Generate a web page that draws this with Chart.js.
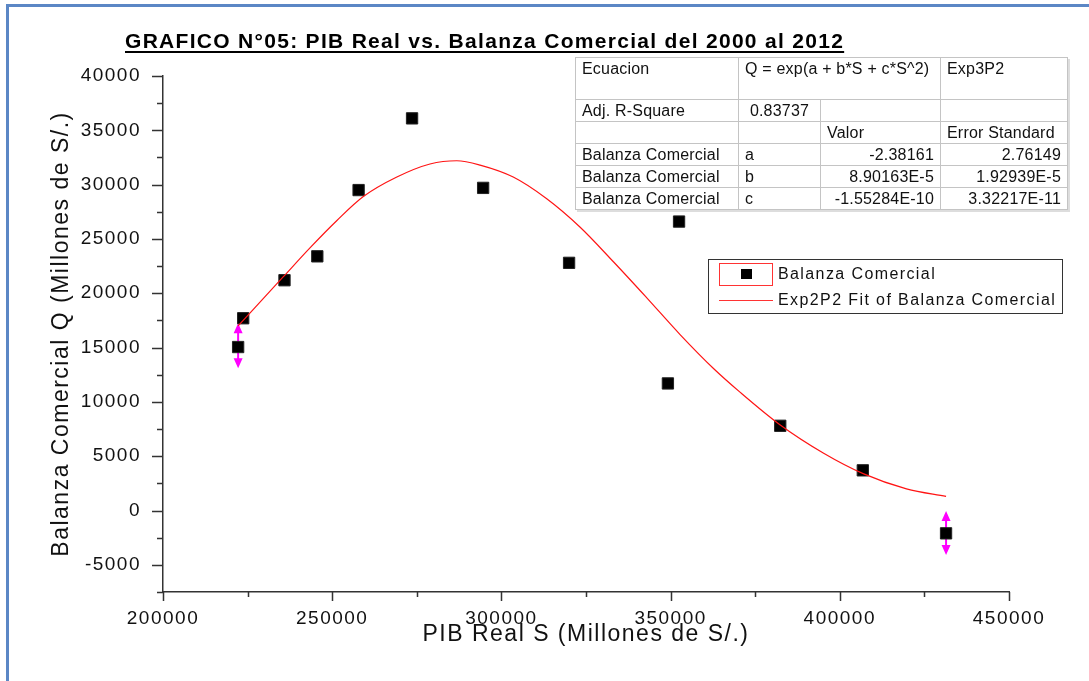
<!DOCTYPE html>
<html>
<head>
<meta charset="utf-8">
<script src="https://cdn.jsdelivr.net/npm/chart.js"></script>
<style>
  body { margin: 0; background: #fff; font-family: "Liberation Sans", Arial, sans-serif; }
  #wrap { position: relative; width: 1089px; height: 681px; overflow: hidden; }
  #frame { position: absolute; left: 6px; top: 4px; width: 1100px; height: 700px;
           border-left: 3px solid #5b87c5; border-top: 3px solid #5b87c5; }
  #titulo { position: absolute; left: 125px; top: 29px; font-weight: bold; font-size: 21px;
            letter-spacing: 1.3px; text-decoration: underline; text-decoration-thickness: 2px;
            text-underline-offset: 3px; white-space: nowrap; color: #000; }
  #tabla { position: absolute; left: 575px; top: 57px; width: 492px; table-layout: fixed;
           border-collapse: collapse; font-size: 16px; letter-spacing: 0.2px; color: #111; background: #fff;
           border: 1.5px solid #222; box-shadow: 2px 2px 0 #ddd; }
  #tabla td { border: 1px solid #c4c4c4; padding: 0 6px; height: 21px; line-height: 18px;
              white-space: nowrap; overflow: hidden; }
  #tabla tr.r1 td { height: 39px; vertical-align: top; padding-top: 2px; }
  #tabla td.num { text-align: right; padding-right: 6px; }
  #tabla td.cen { text-align: center; }
  #leyenda { position: absolute; left: 708px; top: 259px; width: 353px; height: 53px;
             border: 1px solid #333; background: #fff; font-size: 16px; letter-spacing: 1.4px; color: #111; }
  #leyenda .sw { position: absolute; left: 10px; top: 3px; width: 52px; height: 21px; border: 1px solid #f33; }
  #leyenda .sq { position: absolute; left: 21px; top: 5px; width: 11px; height: 10px; background: #000; }
  #leyenda .ln { position: absolute; left: 10px; top: 40px; width: 54px; height: 1px; background: #f33; }
  #leyenda .t1 { position: absolute; left: 69px; top: 5px; }
  #leyenda .t2 { position: absolute; left: 69px; top: 31px; }
</style>
</head>
<body>
<div id="wrap">
  <div id="frame"></div>
  <canvas id="grafico" width="1089" height="681"></canvas>
  <div id="titulo">GRAFICO N°05: PIB Real vs. Balanza Comercial del 2000 al 2012</div>
  <table id="tabla">
    <colgroup><col style="width:163px"><col style="width:82px"><col style="width:120px"><col style="width:127px"></colgroup>
    <tr class="r1"><td>Ecuacion</td><td colspan="2">Q = exp(a + b*S + c*S^2)</td><td>Exp3P2</td></tr>
    <tr><td>Adj. R-Square</td><td class="cen">0.83737</td><td></td><td></td></tr>
    <tr><td></td><td></td><td>Valor</td><td>Error Standard</td></tr>
    <tr><td>Balanza Comercial</td><td>a</td><td class="num">-2.38161</td><td class="num">2.76149</td></tr>
    <tr><td>Balanza Comercial</td><td>b</td><td class="num">8.90163E-5</td><td class="num">1.92939E-5</td></tr>
    <tr><td>Balanza Comercial</td><td>c</td><td class="num">-1.55284E-10</td><td class="num">3.32217E-11</td></tr>
  </table>
  <div id="leyenda">
    <div class="sw"><div class="sq"></div></div>
    <div class="t1">Balanza Comercial</div>
    <div class="ln"></div>
    <div class="t2">Exp2P2 Fit of Balanza Comercial</div>
  </div>
</div>

<script>
// PIB real (S) y balanza comercial (Q), millones de S/.
const pib = [222200, 223700, 235900, 245600, 257800, 273600, 294600, 320000, 349200, 352500, 382400, 406800, 431400];
const balanza = [15050, 17700, 21200, 23400, 29500, 36100, 29700, 22800, 11700, 26600, 7800, 3700, -2100];

// barras de error (solo primer y ultimo punto)
const errBajo = [13100, null, null, null, null, null, null, null, null, null, null, null, -4100];
const errAlto = [17250, null, null, null, null, null, null, null, null, null, null, null, -50];

// curva ajustada
const ajusteS = [222200, 235500, 243500, 251400, 259200, 269100, 278900, 286800, 293700, 303500, 313400,
                 323200, 333100, 342900, 352800, 362600, 370500, 382300, 395100, 406900, 419700, 431400];
const ajusteQ = [17000, 21500, 24200, 26700, 28900, 30700, 31900, 32200, 31800, 30700, 28700,
                 26100, 22900, 19600, 16200, 13100, 10900, 7900, 5300, 3400, 2000, 1300];

const xTicks = [200000, 250000, 300000, 350000, 400000, 450000];
const yTicks = [-5000, 0, 5000, 10000, 15000, 20000, 25000, 30000, 35000, 40000];

const extras = {
    id: 'extras',
    beforeDraw(chart) {
        chart.ctx.letterSpacing = '1.5px';
    },
    beforeDatasetsDraw(chart) {
        const {ctx, scales: {x, y}} = chart;
        ctx.save();
        ctx.strokeStyle = '#ff00ff';
        ctx.fillStyle = '#ff00ff';
        ctx.lineWidth = 2;
        errBajo.forEach((lo, i) => {
            if (lo === null) return;
            const px = x.getPixelForValue(pib[i]);
            const top = y.getPixelForValue(errAlto[i]);
            const bot = y.getPixelForValue(lo);
            ctx.beginPath();
            ctx.moveTo(px, top + 6);
            ctx.lineTo(px, bot - 6);
            ctx.stroke();
            ctx.beginPath();
            ctx.moveTo(px, top);
            ctx.lineTo(px - 4.5, top + 10);
            ctx.lineTo(px + 4.5, top + 10);
            ctx.closePath();
            ctx.moveTo(px, bot);
            ctx.lineTo(px - 4.5, bot - 10);
            ctx.lineTo(px + 4.5, bot - 10);
            ctx.closePath();
            ctx.fill();
        });
        ctx.restore();
    },
    afterDraw(chart) {
        // marcas de escala mayores y menores
        const {ctx, scales: {x, y}} = chart;
        ctx.save();
        ctx.strokeStyle = '#333';
        ctx.lineWidth = 1.5;
        ctx.beginPath();
        for (let v = x.min; v <= x.max; v += 25000) {
            const px = Math.round(x.getPixelForValue(v)) + 0.5;
            const len = v % 50000 === 0 ? 9 : 5;
            ctx.moveTo(px, x.top);
            ctx.lineTo(px, x.top + len);
        }
        for (let v = y.min; v <= y.max; v += 2500) {
            const py = Math.round(y.getPixelForValue(v)) + 0.5;
            const len = v % 5000 === 0 ? 11 : 6;
            ctx.moveTo(y.right, py);
            ctx.lineTo(y.right - len, py);
        }
        ctx.stroke();
        ctx.restore();
    }
};

Chart.defaults.font.family = '"Liberation Sans", Arial, sans-serif';
Chart.defaults.color = '#111';

new Chart(document.getElementById('grafico'), {
    type: 'scatter',
    data: {
        datasets: [{
            label: 'Exp2P2 Fit of Balanza Comercial',
            data: ajusteS.map((s, i) => ({x: s, y: ajusteQ[i]})),
            showLine: true,
            borderColor: 'rgb(255, 20, 20)',
            borderWidth: 1.2,
            pointRadius: 0,
            cubicInterpolationMode: 'monotone'
        }, {
            label: 'Balanza Comercial',
            data: pib.map((s, i) => ({x: s, y: balanza[i]})),
            pointStyle: 'rect',
            pointRadius: 8,
            backgroundColor: '#000',
            borderColor: '#222',
            borderWidth: 1
        }]
    },
    options: {
        responsive: false,
        animation: false,
        layout: { padding: {left: 0, top: 76, right: 80, bottom: 0} },
        plugins: {
            legend: { display: false },
            tooltip: { enabled: false }
        },
        scales: {
            x: {
                type: 'linear',
                min: 200000,
                max: 450000,
                afterBuildTicks: s => { s.ticks = xTicks.map(v => ({value: v})); },
                afterFit: s => { s.height = 89; },
                grid: { drawOnChartArea: false, drawTicks: false },
                border: { color: '#333', width: 1.5 },
                ticks: { padding: 15, autoSkip: false, maxRotation: 0, font: {size: 19},
                         callback: v => String(v) },
                title: {
                    display: true,
                    text: 'PIB Real S (Millones de S/.)',
                    font: {size: 23},
                    color: '#111',
                    padding: {top: 0, bottom: 33}
                }
            },
            y: {
                type: 'linear',
                min: -7500,
                max: 40000,
                afterBuildTicks: s => { s.ticks = yTicks.map(v => ({value: v})); },
                afterFit: s => { s.width = 163; },
                grid: { drawOnChartArea: false, drawTicks: false },
                border: { color: '#333', width: 1.5 },
                ticks: { padding: 22, autoSkip: false, font: {size: 19},
                         callback: v => String(v) },
                title: {
                    display: true,
                    text: 'Balanza Comercial Q (Millones de S/.)',
                    font: {size: 23},
                    color: '#111',
                    padding: {top: 48, bottom: 0}
                }
            }
        }
    },
    plugins: [extras]
});
</script>
</body>
</html>
